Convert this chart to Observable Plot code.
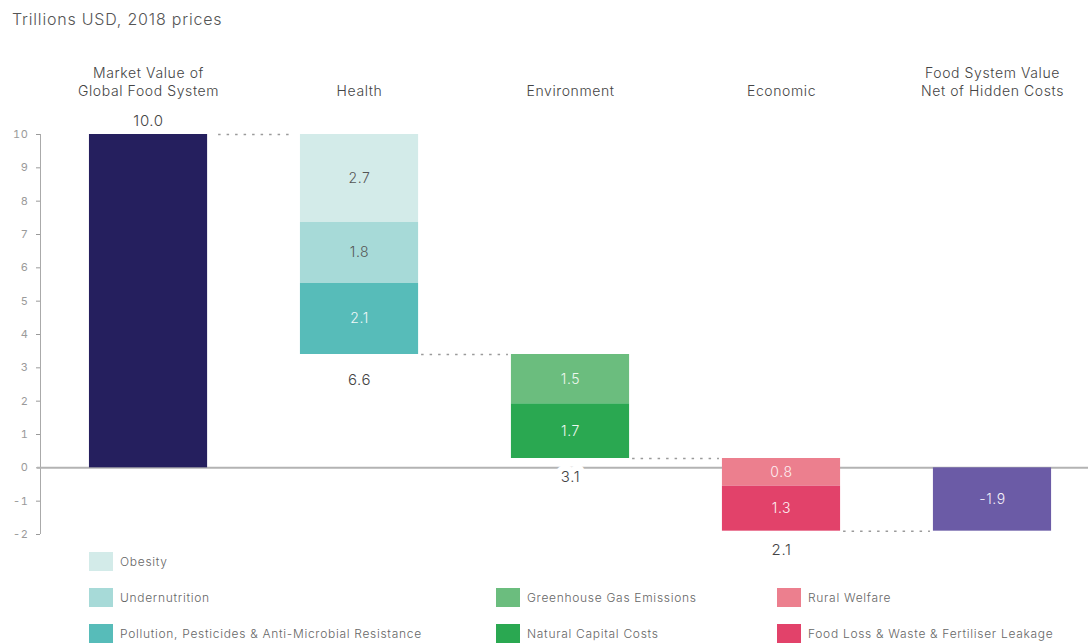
<!DOCTYPE html>
<html><head><meta charset="utf-8">
<script src="https://cdn.jsdelivr.net/npm/d3@7"></script>
<script src="https://cdn.jsdelivr.net/npm/@observablehq/plot@0.6"></script>
<style>
body{margin:0;background:#fff;font-family:Inter,"Noto Sans",sans-serif;}
#title{height:40px;box-sizing:border-box;padding:9px 0 0 12px;font-size:16px;letter-spacing:0.8px;color:#555;font-weight:300}
#chart svg{overflow:visible;display:block}
#legend{position:relative;height:93px}
.col{position:absolute;top:0;display:flex;flex-direction:column;justify-content:flex-end;height:92px;gap:16px}
.item{display:flex;align-items:center;height:20px;font-size:12px;letter-spacing:0.7px;color:#666;font-weight:300;white-space:nowrap}
.sw{width:24px;height:19px;margin-right:7px;flex:none}
</style></head><body>
<div id="title">Trillions USD, 2018 prices</div>
<div id="chart"></div>
<div id="legend"></div>
<script>
const categories = ["Market Value of\nGlobal Food System", "Health", "Environment", "Economic", "Food System Value\nNet of Hidden Costs"];
const marketValue = 10.0;
const healthNames = ["Obesity", "Undernutrition", "Pollution, Pesticides & Anti-Microbial Resistance"];
const healthCosts = [2.64, 1.83, 2.13];
const healthLabels = ["2.7", "1.8", "2.1"];
const envNames = ["Greenhouse Gas Emissions", "Natural Capital Costs"];
const envCosts = [1.48, 1.64];
const envLabels = ["1.5", "1.7"];
const econNames = ["Rural Welfare", "Food Loss & Waste & Fertiliser Leakage"];
const econCosts = [0.83, 1.35];
const econLabels = ["0.8", "1.3"];
const netValue = -1.9;
const totalLabels = ["10.0", "6.6", "3.1", "2.1", "-1.9"];
const yTicks = [-2, -1, 0, 1, 2, 3, 4, 5, 6, 7, 8, 9, 10];

const marketColor = "#251f5e";
const netColor = "#6b5ba6";
const healthColors = ["#d3ebe9", "#a7dad8", "#57bcb9"];
const envColors = ["#6bbd7e", "#2aa851"];
const econColors = ["#ec7f8e", "#e2426a"];
const healthText = ["#555", "#555", "#eef8f8"];
const envText = ["#eef8f0", "#eef8f0"];
const econText = ["#fdf0f2", "#fdf0f2"];

// build segments
const segs = [{i: 0, y1: 0, y2: marketValue, color: marketColor, label: "", tc: "#fff"}];
const levels = [marketValue];
let level = marketValue;
[[healthCosts, healthLabels, healthColors, healthText],
 [envCosts, envLabels, envColors, envText],
 [econCosts, econLabels, econColors, econText]].forEach(([costs, labels, cols, tcs], g) => {
  costs.forEach((c, k) => {
    segs.push({i: g + 1, y1: level, y2: level - c, color: cols[k], label: labels[k], tc: tcs[k]});
    level -= c;
  });
  levels.push(level);
});
segs.push({i: 4, y1: 0, y2: netValue, color: netColor, label: totalLabels[4], tc: "#f3f0fa"});

const hw = 0.28;
const xDomain = [-0.512, 4.455];
const connectors = levels.map((y, k) => ({i: k, y}));

const plot = Plot.plot({
  width: 1088, height: 511,
  marginLeft: 40, marginRight: 0, marginTop: 94, marginBottom: 17,
  x: {domain: xDomain, axis: null},
  y: {domain: [-2, 10], axis: null},
  color: {type: "identity"},
  style: {fontFamily: "Inter, 'Noto Sans', sans-serif", overflow: "visible", background: "white", letterSpacing: "0.6px"},
  marks: [
    Plot.ruleX([xDomain[0]], {y1: -2, y2: 10, stroke: "#aaa", strokeWidth: 1}),
    Plot.axisY({ticks: yTicks, tickSize: 4, tickPadding: 8, fontSize: 11, color: "#9a9a9a", tickFormat: d => String(d)}),
    Plot.ruleY([0], {stroke: "#b3b3b3", strokeWidth: 2, insetLeft: -3}),
    Plot.ruleY(connectors.slice(0, 1), {x1: d => d.i + hw, x2: d => d.i + 1 - hw, y: "y", insetLeft: 11, insetRight: 11, stroke: "#9a9a9a", strokeWidth: 1.5, strokeDasharray: "2.5,6"}),
    Plot.ruleY(connectors.slice(1), {x1: d => d.i + hw, x2: d => d.i + 1 - hw, y: "y", insetLeft: 3, insetRight: 3, stroke: "#9a9a9a", strokeWidth: 1.5, strokeDasharray: "2.5,6"}),
    Plot.rectY(segs, {x1: d => d.i - hw, x2: d => d.i + hw, y1: "y1", y2: "y2", fill: "color"}),
    Plot.text(segs.filter(d => d.label), {x: "i", y: d => (d.y1 + d.y2) / 2, text: "label", fill: "tc", fontSize: 14, fontWeight: 300}),
    Plot.text(categories, {x: (d, i) => i, y: 10, text: d => d, lineAnchor: "bottom", dy: -39, lineHeight: 1.22, fontSize: 14, fill: "#444", fontWeight: 300}),
    Plot.text([0], {x: d => d, y: levels[0], text: d => totalLabels[d], dy: -13, fontSize: 15, fill: "#444", fontWeight: 300}),
    Plot.text([1], {x: d => d, y: d => levels[d], text: d => totalLabels[d], dy: 26, fontSize: 15, fill: "#444", fontWeight: 300}),
    Plot.text([2, 3], {x: d => d, y: d => levels[d], text: d => totalLabels[d], dy: 19, fontSize: 15, fill: "#444", fontWeight: 300, stroke: "white", strokeWidth: 12})
  ]
});
document.getElementById("chart").appendChild(plot);

// legend
const legendCols = [
  {left: 89, names: healthNames, colors: healthColors},
  {left: 496, names: envNames, colors: envColors},
  {left: 777, names: econNames, colors: econColors}
];
const lg = document.getElementById("legend");
legendCols.forEach(c => {
  const col = document.createElement("div");
  col.className = "col";
  col.style.left = c.left + "px";
  c.names.forEach((n, k) => {
    const it = document.createElement("div");
    it.className = "item";
    const sw = document.createElement("span");
    sw.className = "sw";
    sw.style.background = c.colors[k];
    it.appendChild(sw);
    it.appendChild(document.createTextNode(n));
    col.appendChild(it);
  });
  lg.appendChild(col);
});
</script></body></html>
